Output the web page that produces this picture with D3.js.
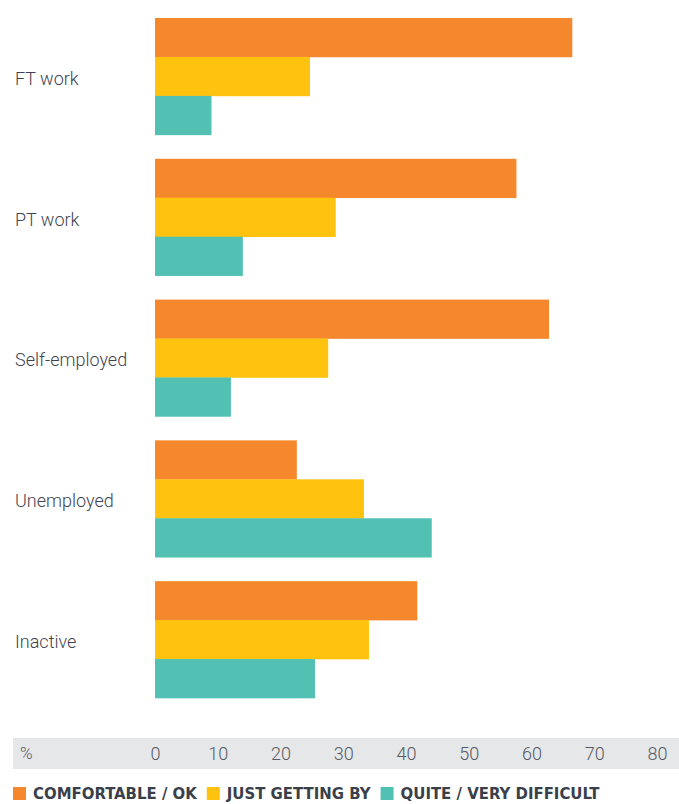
<!DOCTYPE html>
<html>
<head>
<meta charset="utf-8">
<script src="https://cdn.jsdelivr.net/npm/d3@7"></script>
<style>
  body { margin: 0; background: #fff; }
</style>
</head>
<body>
<div id="chart"></div>
<script>
const categories = ["FT work", "PT work", "Self-employed", "Unemployed", "Inactive"];
const seriesNames = ["COMFORTABLE / OK", "JUST GETTING BY", "QUITE / VERY DIFFICULT"];
const comfortable = [66.5, 57.6, 62.8, 22.6, 41.8];
const gettingBy = [24.7, 28.8, 27.6, 33.3, 34.1];
const difficult = [9.0, 14.0, 12.1, 44.1, 25.5];
const ticks = [0, 10, 20, 30, 40, 50, 60, 70, 80];
const colors = ["#f5882d", "#ffc20e", "#52c1b4"];

const WIDTH = 679;
const HEIGHT = 804;

const rows = categories.map((c, i) => ({
  cat: c,
  values: [comfortable[i], gettingBy[i], difficult[i]],
}));

const svg = d3
  .select("#chart")
  .append("svg")
  .attr("width", WIDTH)
  .attr("height", HEIGHT);

const x = d3.scaleLinear().domain([0, 80]).range([155, 657]);

const y = d3
  .scaleBand()
  .domain(categories)
  .range([18, 698])
  .paddingInner(0.17)
  .paddingOuter(0);

const ySub = d3
  .scaleBand()
  .domain(d3.range(seriesNames.length))
  .range([0, y.bandwidth()]);

// BARS
const groups = svg
  .selectAll("g.group")
  .data(rows)
  .enter()
  .append("g")
  .attr("class", "group")
  .attr("transform", (d) => `translate(0, ${y(d.cat)})`);

groups
  .selectAll("rect")
  .data((d) => d.values)
  .enter()
  .append("rect")
  .attr("x", x(0))
  .attr("y", (d, i) => ySub(i))
  .attr("width", (d) => x(d) - x(0))
  .attr("height", ySub.bandwidth() + 0.3)
  .style("fill", (d, i) => colors[i]);

// CATEGORY LABELS
svg
  .selectAll("text.cat")
  .data(categories)
  .enter()
  .append("text")
  .attr("class", "cat")
  .attr("x", 15)
  .attr("y", (d) => y(d) + y.bandwidth() / 2 + 2)
  .attr("dy", "0.35em")
  .style("font-family", "Roboto, sans-serif")
  .style("font-size", "18px")
  .style("font-weight", "300")
  .style("fill", "#3f4350")
  .text((d) => d);

// AXIS BAND
svg
  .append("rect")
  .attr("x", 13)
  .attr("y", 738)
  .attr("width", WIDTH - 13)
  .attr("height", 31)
  .style("fill", "#e6e7e8");

svg
  .append("text")
  .attr("x", 20)
  .attr("y", 753.5)
  .attr("dy", "0.35em")
  .style("font-family", "Roboto, sans-serif")
  .style("font-size", "17px")
  .style("font-weight", "300")
  .style("fill", "#555a63")
  .text("%");

const xAxis = svg
  .append("g")
  .attr("transform", "translate(0, 753.5)")
  .call(d3.axisBottom(x).tickValues(ticks).tickSize(0).tickPadding(0))
  .call((g) => g.select(".domain").remove());

xAxis
  .selectAll("text")
  .attr("dy", "0.35em")
  .style("font-family", "Roboto, sans-serif")
  .style("font-size", "18px")
  .style("font-weight", "300")
  .style("fill", "#555a63");

// LEGEND
const legend = svg.append("g").attr("transform", "translate(13, 793)");
let lx = 0;
seriesNames.forEach((name, i) => {
  legend
    .append("rect")
    .attr("x", lx)
    .attr("y", -6)
    .attr("width", 13)
    .attr("height", 13)
    .style("fill", colors[i]);
  const t = legend
    .append("text")
    .attr("x", lx + 20)
    .attr("y", 0)
    .attr("dy", "0.36em")
    .style("font-family", "'DejaVu Sans Condensed', 'DejaVu Sans', sans-serif")
    .style("font-stretch", "condensed")
    .style("font-size", "16.6px")
    .style("font-weight", "bold")
    .style("fill", "#3a3f4a")
    .text(name);
  lx += 20 + t.node().getComputedTextLength() + 10;
});
</script>
</body>
</html>
